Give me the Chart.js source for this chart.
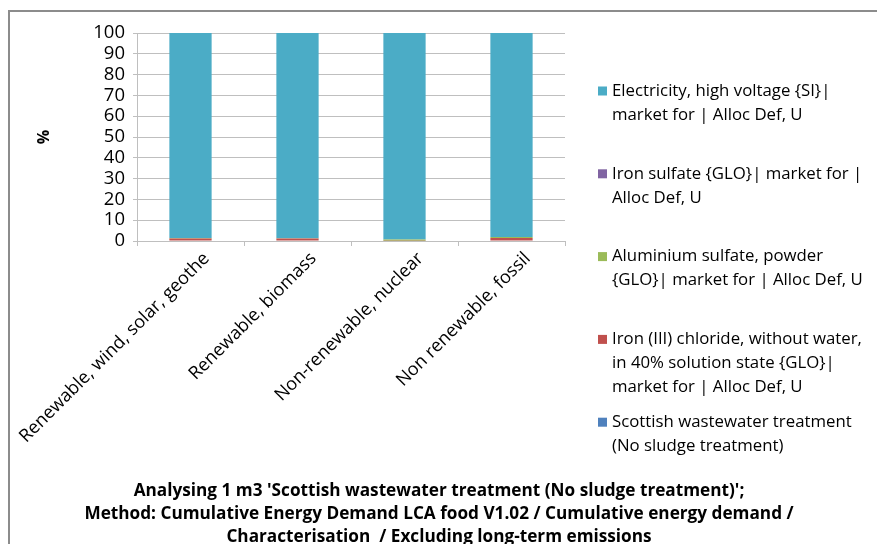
<!DOCTYPE html>
<html>
<head>
<meta charset="utf-8">
<script src="https://cdn.jsdelivr.net/npm/chart.js@4"></script>
<style>
  html, body { margin: 0; padding: 0; background: #fff; overflow: hidden; }
  canvas { display: block; }
</style>
</head>
<body>
<canvas id="chart" width="877" height="544"></canvas>
<script>
// Energy demand categories (x axis)
const categories = [
  'Renewable, wind, solar, geothe',
  'Renewable, biomass',
  'Non-renewable, nuclear',
  'Non renewable, fossil'
];

// Contribution of each process, in % of the category total
const scottishWastewater = [0, 0, 0, 0];
const ironChloride       = [1.2, 1.2, 0.1, 1.4];
const aluminiumSulfate   = [0.2, 0.15, 0.6, 0.5];
const ironSulfate        = [0.02, 0.02, 0.01, 0.03];
const electricity        = [98.58, 98.63, 99.29, 98.07];

// Legend text, one entry per process, already broken into lines
const scottishLines     = ['Scottish wastewater treatment', '(No sludge treatment)'];
const ironChlorideLines = ['Iron (III) chloride, without water,', 'in 40% solution state {GLO}|', 'market for | Alloc Def, U'];
const aluminiumLines    = ['Aluminium sulfate, powder', '{GLO}| market for | Alloc Def, U'];
const ironSulfateLines  = ['Iron sulfate {GLO}| market for |', 'Alloc Def, U'];
const electricityLines  = ['Electricity, high voltage {SI}|', 'market for | Alloc Def, U'];

const yTicks = [0, 10, 20, 30, 40, 50, 60, 70, 80, 90, 100];
const yAxisTitle = '%';
const titleLines = [
  "Analysing 1 m3 'Scottish wastewater treatment (No sludge treatment)';",
  'Method: Cumulative Energy Demand LCA food V1.02 / Cumulative energy demand /',
  'Characterisation  / Excluding long-term emissions'
];

const FONT = '"Open Sans", Lato, sans-serif';

function series(lines, values, color) {
  return {
    label: lines.join(' '),
    legendLines: lines,
    data: values,
    backgroundColor: color,
    borderWidth: 0,
    categoryPercentage: 1,
    barPercentage: 0.395
  };
}

// White background and the grey frame along the top and left edges
const framePlugin = {
  id: 'frame',
  beforeDraw(chart) {
    const ctx = chart.ctx;
    ctx.save();
    ctx.fillStyle = '#ffffff';
    ctx.fillRect(0, 0, chart.width, chart.height);
    ctx.strokeStyle = '#8c8c8c';
    ctx.lineWidth = 2;
    ctx.beginPath();
    ctx.moveTo(9, chart.height);
    ctx.lineTo(9, 11);
    ctx.lineTo(chart.width, 11);
    ctx.stroke();
    ctx.restore();
  }
};

// Legend column on the right (top series first) and the centred caption below
const sideLegendPlugin = {
  id: 'sideLegend',
  afterDraw(chart) {
    const ctx = chart.ctx;
    ctx.save();
    ctx.font = '16.8px ' + FONT;
    ctx.textBaseline = 'middle';
    ctx.textAlign = 'left';
    const items = chart.data.datasets.slice().reverse();
    let y = 91;
    items.forEach(ds => {
      ctx.fillStyle = ds.backgroundColor;
      ctx.fillRect(598, y - 4.5, 9, 9);
      ctx.fillStyle = '#000000';
      ds.legendLines.forEach((line, i) => ctx.fillText(line, 612, y + i * 24));
      y += 82.8;
    });

    ctx.font = 'bold 17.2px ' + FONT;
    ctx.textAlign = 'center';
    titleLines.forEach((line, i) => ctx.fillText(line, 439, 491 + i * 23));
    ctx.restore();
  }
};

new Chart(document.getElementById('chart'), {
  type: 'bar',
  data: {
    labels: categories,
    datasets: [
      series(scottishLines, scottishWastewater, '#4F81BD'),
      series(ironChlorideLines, ironChloride, '#C0504D'),
      series(aluminiumLines, aluminiumSulfate, '#9BBB59'),
      series(ironSulfateLines, ironSulfate, '#8064A2'),
      series(electricityLines, electricity, '#4BACC6')
    ]
  },
  options: {
    responsive: false,
    animation: false,
    layout: { padding: { left: 0, top: 33, right: 312, bottom: 0 } },
    plugins: {
      legend: { display: false },
      tooltip: { enabled: false },
      title: { display: false }
    },
    scales: {
      x: {
        stacked: true,
        grid: { offset: true, drawOnChartArea: false, drawTicks: true, tickLength: 5, color: '#bfbfbf' },
        border: { color: '#bfbfbf' },
        ticks: {
          autoSkip: false,
          minRotation: 45,
          maxRotation: 45,
          padding: 2,
          labelOffset: 16,
          color: '#000000',
          font: { family: FONT, size: 18 }
        },
        afterFit(scale) {
          scale.height = 303;
          // rotated labels may spill left of the plot; keep the plot edges fixed
          scale.paddingLeft = 0;
          scale.paddingRight = 0;
        }
      },
      y: {
        stacked: true,
        min: 0,
        max: 100,
        afterBuildTicks(scale) { scale.ticks = yTicks.map(v => ({ value: v })); },
        grid: { color: '#bfbfbf', tickLength: 4 },
        border: { color: '#bfbfbf' },
        ticks: { autoSkip: false, padding: 8, color: '#000000', font: { family: FONT, size: 18.5 } },
        title: {
          display: true,
          text: yAxisTitle,
          color: '#000000',
          font: { family: FONT, size: 16, weight: 'bold' },
          padding: { top: 35, bottom: 0 }
        },
        afterFit(scale) { scale.width = 137; }
      }
    }
  },
  plugins: [framePlugin, sideLegendPlugin]
});
</script>
</body>
</html>
